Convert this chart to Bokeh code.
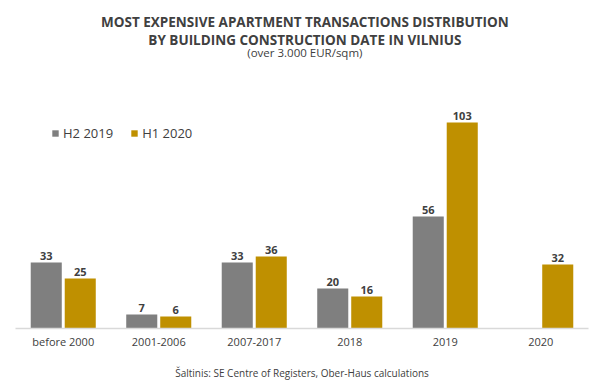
from bokeh.plotting import figure
from bokeh.models import ColumnDataSource, FactorRange, Label, Legend, LegendItem
from bokeh.transform import dodge
from bokeh.core.properties import value
from bokeh.embed import file_html
from bokeh.resources import INLINE

categories = ["before 2000", "2001-2006", "2007-2017", "2018", "2019", "2020"]
h2_2019 = [33, 7, 33, 20, 56, float("nan")]
h1_2020 = [25, 6, 36, 16, 103, 32]
series_names = ["H2 2019", "H1 2020"]

title_lines = ["MOST EXPENSIVE APARTMENT TRANSACTIONS DISTRIBUTION",
               "BY BUILDING CONSTRUCTION DATE IN VILNIUS"]
subtitle = "(over 3.000 EUR/sqm)"
source_note = "Šaltinis: SE Centre of Registers, Ober-Haus calculations"

GRAY = "#7f7f7f"
GOLD = "#bf9000"
TXT = "#404040"
FONT = "Open Sans"

def lab(v):
    return "" if v != v else str(int(v))

src = ColumnDataSource(dict(
    cat=categories,
    a=h2_2019, b=h1_2020,
    la=[lab(v) for v in h2_2019],
    lb=[lab(v) for v in h1_2020],
))

p = figure(width=596, height=385, x_range=FactorRange(*categories, range_padding=0),
           y_range=(0, 160), output_backend="svg", toolbar_location=None,
           y_axis_location=None, min_border_left=15, min_border_right=8,
           min_border_top=8, min_border_bottom=57)
p.outline_line_color = None
p.xgrid.visible = False
p.ygrid.visible = False
p.background_fill_color = "white"
p.border_fill_color = "white"

off = 0.178
bw = 0.325
r1 = p.vbar(x=dodge("cat", -off, range=p.x_range), top="a", width=bw, source=src,
            fill_color=GRAY, line_color=None)
r2 = p.vbar(x=dodge("cat", off, range=p.x_range), top="b", width=bw, source=src,
            fill_color=GOLD, line_color=None)

for col, lcol, o in (("a", "la", -off), ("b", "lb", off)):
    p.text(x=dodge("cat", o, range=p.x_range), y=col, text=lcol, source=src,
           text_align="center", text_baseline="alphabetic", y_offset=-7,
           text_font=value(FONT), text_font_style="bold", text_font_size="11px",
           text_color=TXT)

ax = p.xaxis[0]
ax.axis_line_color = "#d9d9d9"
ax.axis_line_width = 1.5
ax.major_tick_line_color = None
ax.minor_tick_line_color = None
ax.major_label_text_font = FONT
ax.major_label_text_font_size = "11px"
ax.major_label_text_color = TXT
ax.major_label_standoff = -1
ax.axis_label = source_note
ax.axis_label_text_font = FONT
ax.axis_label_text_font_size = "10px"
ax.axis_label_text_font_style = "normal"
ax.axis_label_text_color = TXT
ax.axis_label_standoff = 14

legend = Legend(items=[LegendItem(label=series_names[0], renderers=[r1]),
                       LegendItem(label=series_names[1], renderers=[r2])],
                location=(36, 186), orientation="horizontal",
                glyph_width=8, glyph_height=8, label_standoff=4, spacing=17,
                padding=0, margin=0, border_line_color=None,
                background_fill_alpha=0, label_text_font=FONT,
                label_text_font_size="13px", label_text_color=TXT,
                label_height=14)
p.add_layout(legend, "center")

cx = 3.03
p.add_layout(Label(x=cx, y=153.5, text=title_lines[0], text_align="center",
                   text_baseline="middle", text_font=FONT, text_font_style="bold",
                   text_font_size="13.5px", text_color=TXT))
p.add_layout(Label(x=cx, y=144.5, text=title_lines[1], text_align="center",
                   text_baseline="middle", text_font=FONT, text_font_style="bold",
                   text_font_size="13.5px", text_color=TXT))
p.add_layout(Label(x=cx, y=138, text=subtitle, text_align="center",
                   text_baseline="middle", text_font=FONT,
                   text_font_size="11.5px", text_color=TXT))

open("out.html", "w").write(file_html(p, INLINE))
